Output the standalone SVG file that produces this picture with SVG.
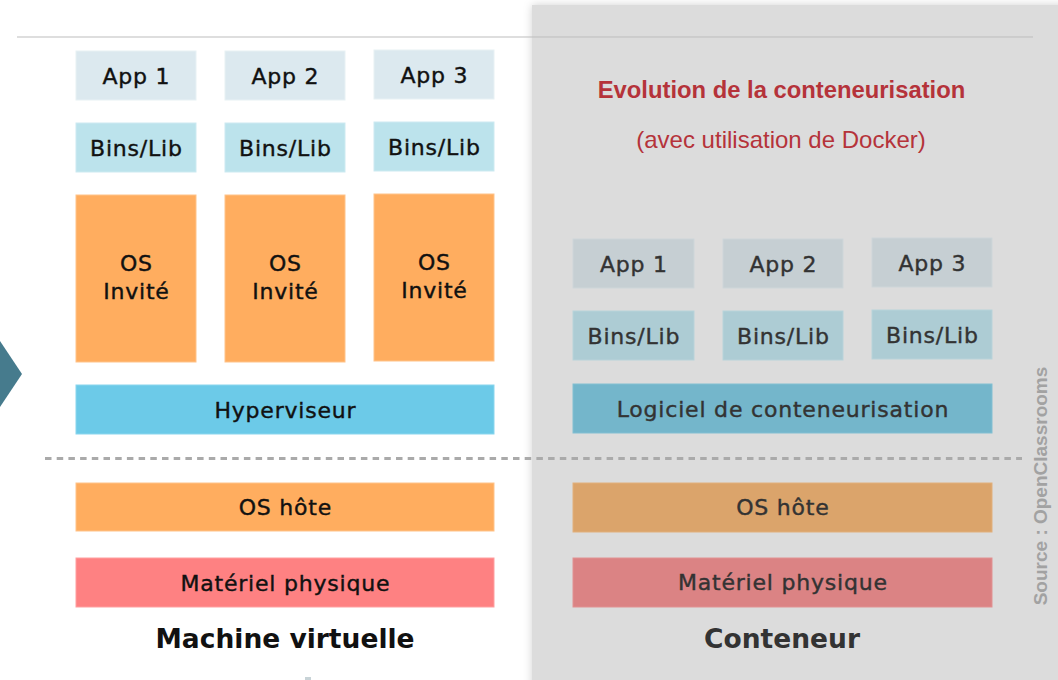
<svg xmlns="http://www.w3.org/2000/svg" width="1058" height="680" viewBox="0 0 1058 680">
  <defs>
    <filter id="panelShadow" x="-5%" y="-5%" width="110%" height="110%">
      <feGaussianBlur in="SourceAlpha" stdDeviation="4"/>
      <feOffset dx="0" dy="0" result="blur"/>
      <feFlood flood-color="#000" flood-opacity="0.18"/>
      <feComposite in2="blur" operator="in"/>
      <feMerge><feMergeNode/><feMergeNode in="SourceGraphic"/></feMerge>
    </filter>
    <style>
      .lbl { font-family: "DejaVu Sans", "Open Sans", sans-serif; font-size: 22px; letter-spacing: 0.8px; text-anchor: middle; stroke-width: 0.4px; }
      .vm { fill: #111; stroke: #111; }
      .ct { fill: #333; stroke: #333; }
      .box { stroke-width: 1; }
      .app-l { fill: #dce9ef; stroke: #e8f1f4; }
      .bins-l { fill: #bce3ec; stroke: #cdeaf1; }
      .osg { fill: #ffad5f; stroke: #ffc38a; }
      .hyp { fill: #6ccae8; stroke: #8ad6ee; }
      .osh-l { fill: #ffad5f; stroke: #ffc38a; }
      .hw-l { fill: #fe8182; stroke: #ff9fa0; }
      .app-r { fill: #c6cfd3; stroke: #ced6d9; }
      .bins-r { fill: #adccd4; stroke: #b8d3da; }
      .soft { fill: #74b6cb; stroke: #82bfd2; }
      .osh-r { fill: #dba46b; stroke: #e1b07c; }
      .hw-r { fill: #db8384; stroke: #e19192; }
      .title { font-family: "DejaVu Sans", "Open Sans", sans-serif; font-size: 26.5px; font-weight: 700; text-anchor: middle; }
      .red { font-family: "Liberation Sans", Arial, sans-serif; fill: #b5333a; text-anchor: middle; }
    </style>
  </defs>

  <rect width="1058" height="680" fill="#fff"/>

  <!-- container side panel -->
  <rect x="532" y="5" width="540" height="690" fill="#dcdcdc" filter="url(#panelShadow)"/>

  <!-- top rule -->
  <line x1="17" y1="37" x2="1033" y2="37" stroke="#bdbdbd" stroke-width="1"/>

  <!-- left pointer -->
  <polygon points="0,341 22,374 0,407" fill="#467b8d"/>

  <!-- separator between guest and host layers -->
  <g id="connectors">
    <line x1="45" y1="458.5" x2="1022" y2="458.5" stroke="#aaaaaa" stroke-width="3" stroke-dasharray="6.5 5.2"/>
  </g>

  <!-- virtual machine stack -->
  <g id="vm-app1"><rect class="box app-l" x="76" y="51" width="120" height="49"/><text class="lbl vm" x="136.4" y="83.5">App 1</text></g>
  <g id="vm-app2"><rect class="box app-l" x="225" y="51" width="120" height="49"/><text class="lbl vm" x="285.4" y="83.5">App 2</text></g>
  <g id="vm-app3"><rect class="box app-l" x="374" y="50" width="120" height="49"/><text class="lbl vm" x="434.4" y="82.5">App 3</text></g>

  <g id="vm-bins1"><rect class="box bins-l" x="76" y="123" width="120" height="49"/><text class="lbl vm" x="136.4" y="155.5">Bins/Lib</text></g>
  <g id="vm-bins2"><rect class="box bins-l" x="225" y="123" width="120" height="49"/><text class="lbl vm" x="285.4" y="155.5">Bins/Lib</text></g>
  <g id="vm-bins3"><rect class="box bins-l" x="374" y="122" width="120" height="49"/><text class="lbl vm" x="434.4" y="154.5">Bins/Lib</text></g>

  <g id="vm-guest1"><rect class="box osg" x="76" y="195" width="120" height="167"/><text class="lbl vm" x="136.4" y="271">OS</text><text class="lbl vm" x="136.4" y="299">Invité</text></g>
  <g id="vm-guest2"><rect class="box osg" x="225" y="195" width="120" height="167"/><text class="lbl vm" x="285.4" y="271">OS</text><text class="lbl vm" x="285.4" y="299">Invité</text></g>
  <g id="vm-guest3"><rect class="box osg" x="374" y="194" width="120" height="167"/><text class="lbl vm" x="434.4" y="270">OS</text><text class="lbl vm" x="434.4" y="298">Invité</text></g>

  <g id="vm-hypervisor"><rect class="box hyp" x="76" y="385" width="418" height="49"/><text class="lbl vm" x="285.4" y="417.5">Hyperviseur</text></g>
  <g id="vm-hostos"><rect class="box osh-l" x="76" y="483" width="418" height="48"/><text class="lbl vm" x="285.4" y="515">OS hôte</text></g>
  <g id="vm-hardware"><rect class="box hw-l" x="76" y="558" width="418" height="49"/><text class="lbl vm" x="285.4" y="590.5">Matériel physique</text></g>
  <text id="vm-title" class="title" x="285" y="648" fill="#111">Machine virtuelle</text>

  <!-- container stack -->
  <g id="ct-heading">
    <text class="red" x="781.5" y="97.5" font-size="23.8" font-weight="700">Evolution de la conteneurisation</text>
    <text class="red" x="781" y="148" font-size="24">(avec utilisation de Docker)</text>
  </g>

  <g id="ct-app1"><rect class="box app-r" x="573" y="239" width="121" height="49"/><text class="lbl ct" x="633.9" y="271.5">App 1</text></g>
  <g id="ct-app2"><rect class="box app-r" x="723" y="239" width="120" height="49"/><text class="lbl ct" x="783.4" y="271.5">App 2</text></g>
  <g id="ct-app3"><rect class="box app-r" x="872" y="238" width="120" height="49"/><text class="lbl ct" x="932.4" y="270.5">App 3</text></g>

  <g id="ct-bins1"><rect class="box bins-r" x="573" y="311" width="121" height="49"/><text class="lbl ct" x="633.9" y="343.5">Bins/Lib</text></g>
  <g id="ct-bins2"><rect class="box bins-r" x="723" y="311" width="120" height="49"/><text class="lbl ct" x="783.4" y="343.5">Bins/Lib</text></g>
  <g id="ct-bins3"><rect class="box bins-r" x="872" y="310" width="120" height="49"/><text class="lbl ct" x="932.4" y="342.5">Bins/Lib</text></g>

  <g id="ct-engine"><rect class="box soft" x="573" y="384" width="419" height="49"/><text class="lbl ct" x="782.9" y="416.5">Logiciel de conteneurisation</text></g>
  <g id="ct-hostos"><rect class="box osh-r" x="573" y="483" width="419" height="49"/><text class="lbl ct" x="782.9" y="515">OS hôte</text></g>
  <g id="ct-hardware"><rect class="box hw-r" x="573" y="558" width="419" height="49"/><text class="lbl ct" x="782.9" y="590">Matériel physique</text></g>
  <text id="ct-title" class="title" x="782" y="648" fill="#333">Conteneur</text>

  <!-- credit -->
  <text transform="translate(1047,486) rotate(-90)" font-family="'Liberation Sans', Arial, sans-serif" font-size="19" font-weight="700" fill="#a2a2a2" text-anchor="middle">Source : OpenClassrooms</text>

  <rect x="305" y="677" width="6" height="3" fill="#c8d3d7"/>
</svg>
